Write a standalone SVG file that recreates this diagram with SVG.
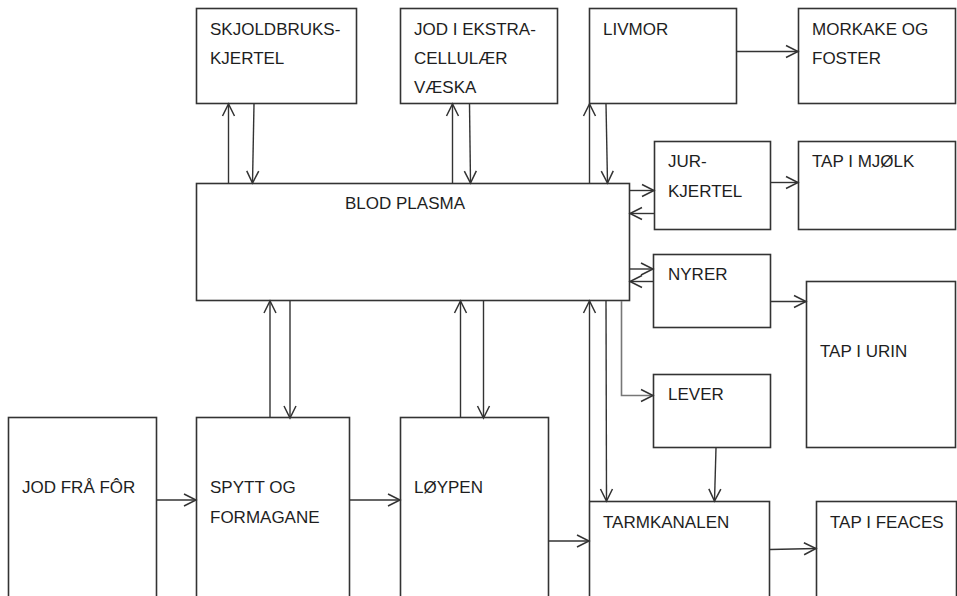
<svg xmlns="http://www.w3.org/2000/svg" width="957" height="596" viewBox="0 0 957 596">
<style>
.box{fill:#fff;stroke:#333;stroke-width:1.6}
.t{font-family:"Liberation Sans",Arial,sans-serif;font-size:17px;fill:#1e1e1e}
.c{fill:none;stroke:#333;stroke-width:1.4}
.g{fill:none;stroke:#777;stroke-width:1.6}
</style>
<defs>
<marker id="ah" markerUnits="userSpaceOnUse" markerWidth="16" markerHeight="16" refX="13" refY="8" orient="auto">
<path d="M1,2 L13,8 L1,14" fill="none" stroke="#333" stroke-width="1.5"/>
</marker>
</defs>
<rect width="957" height="596" fill="#fff"/>
<g id="skjoldbrukskjertel"><rect class="box" x="196.5" y="8.5" width="160" height="95"/><text class="t" x="210" y="35">SKJOLDBRUKS-</text><text class="t" x="210" y="64">KJERTEL</text></g>
<g id="jod-ekstracellulaer"><rect class="box" x="400.5" y="8.5" width="157" height="95"/><text class="t" x="414" y="35">JOD I EKSTRA-</text><text class="t" x="414" y="64">CELLULÆR</text><text class="t" x="414" y="93">VÆSKA</text></g>
<g id="livmor"><rect class="box" x="589.5" y="8.5" width="147" height="95"/><text class="t" x="603" y="35">LIVMOR</text></g>
<g id="morkake"><rect class="box" x="798.5" y="8.5" width="157" height="95"/><text class="t" x="812" y="35">MORKAKE OG</text><text class="t" x="812" y="64">FOSTER</text></g>
<g id="jurkjertel"><rect class="box" x="654.5" y="141.5" width="116" height="88"/><text class="t" x="668" y="167">JUR-</text><text class="t" x="668" y="197">KJERTEL</text></g>
<g id="tap-mjolk"><rect class="box" x="798.5" y="141.5" width="157" height="88"/><text class="t" x="812" y="167">TAP I MJØLK</text></g>
<g id="blodplasma"><rect class="box" x="196.5" y="183.5" width="433" height="117"/><text class="t" x="345" y="209">BLOD PLASMA</text></g>
<g id="nyrer"><rect class="box" x="653.5" y="254.5" width="117" height="73"/><text class="t" x="668" y="280">NYRER</text></g>
<g id="tap-urin"><rect class="box" x="806.5" y="281.5" width="149" height="166"/><text class="t" x="820" y="357">TAP I URIN</text></g>
<g id="lever"><rect class="box" x="653.5" y="374.5" width="117" height="73"/><text class="t" x="668" y="400">LEVER</text></g>
<g id="jod-fra-for"><rect class="box" x="8.5" y="417.5" width="148" height="190"/><text class="t" x="22" y="493">JOD FRÅ FÔR</text></g>
<g id="spytt"><rect class="box" x="196.5" y="417.5" width="153" height="190"/><text class="t" x="210" y="493">SPYTT OG</text><text class="t" x="210" y="523">FORMAGANE</text></g>
<g id="loypen"><rect class="box" x="400.5" y="417.5" width="148" height="190"/><text class="t" x="414" y="493">LØYPEN</text></g>
<g id="tarmkanalen"><rect class="box" x="589.5" y="501.5" width="180" height="110"/><text class="t" x="603" y="528">TARMKANALEN</text></g>
<g id="tap-feaces"><rect class="box" x="816.5" y="501.5" width="140" height="110"/><text class="t" x="830" y="528">TAP I FEACES</text></g>
<g id="connectors">
<path class="c" marker-end="url(#ah)" d="M228.5,183 L228.5,104"/>
<path class="c" marker-end="url(#ah)" d="M254,104 L252.5,183"/>
<path class="c" marker-end="url(#ah)" d="M452.5,183 L452.5,104"/>
<path class="c" marker-end="url(#ah)" d="M469.5,104 L470.5,183"/>
<path class="c" marker-end="url(#ah)" d="M589.5,183 L589.5,104"/>
<path class="c" marker-end="url(#ah)" d="M606,104 L607.5,183"/>
<path class="c" marker-end="url(#ah)" d="M737,51.5 L798,51.5"/>
<path class="c" marker-end="url(#ah)" d="M630,190.5 L654,190.5"/>
<path class="c" marker-end="url(#ah)" d="M654,213.5 L630,213.5"/>
<path class="c" marker-end="url(#ah)" d="M771,182.5 L798,182.5"/>
<path class="c" marker-end="url(#ah)" d="M630,269 L653,269"/>
<path class="c" marker-end="url(#ah)" d="M653,281.5 L630,281.5"/>
<path class="c" marker-end="url(#ah)" d="M771,301.5 L806,301.5"/>
<path class="g" marker-end="url(#ah)" d="M621.5,301 L621.5,395.5 L653,395.5"/>
<path class="c" marker-end="url(#ah)" d="M716,448 L714.5,501"/>
<path class="c" marker-end="url(#ah)" d="M589.5,501 L589.5,301"/>
<path class="c" marker-end="url(#ah)" d="M606,301 L606.5,501"/>
<path class="c" marker-end="url(#ah)" d="M270,418 L270,301"/>
<path class="c" marker-end="url(#ah)" d="M290,301 L290,418"/>
<path class="c" marker-end="url(#ah)" d="M460.5,418 L460.5,301"/>
<path class="c" marker-end="url(#ah)" d="M483.5,301 L483.5,418"/>
<path class="c" marker-end="url(#ah)" d="M157,500 L196,500"/>
<path class="c" marker-end="url(#ah)" d="M350,500 L400,500"/>
<path class="c" marker-end="url(#ah)" d="M549,541 L589,541"/>
<path class="c" marker-end="url(#ah)" d="M770,549.5 L816,548.5"/>
</g>
</svg>
